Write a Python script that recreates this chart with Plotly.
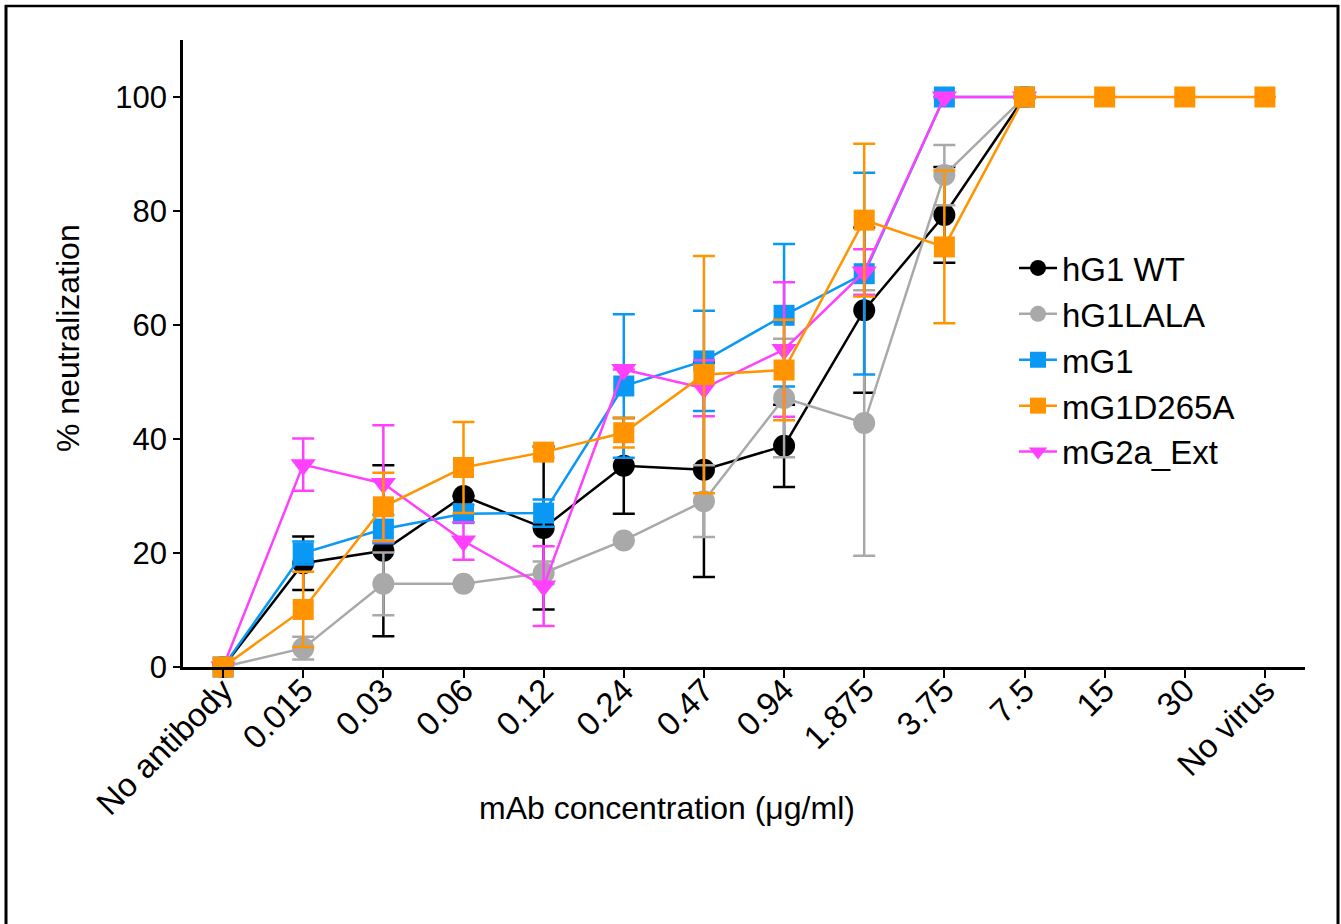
import plotly.graph_objects as go

categories = ["No antibody", "0.015", "0.03", "0.06", "0.12", "0.24", "0.47",
              "0.94", "1.875", "3.75", "7.5", "15", "30", "No virus"]

hg1_wt = [0, 18.2, 20.4, 30.0, 24.4, 35.3, 34.6, 38.8, 62.6, 79.3, 100, None, None, None]
hg1_wt_err = [0, 4.7, 15.0, 0, 14.3, 8.4, 18.8, 7.2, 14.5, 8.4, 0, 0, 0, 0]

hg1_lala = [0, 3.3, 14.6, 14.6, 16.5, 22.2, 29.1, 47.2, 42.8, 86.3, 100, None, None, None]
hg1_lala_err = [0, 2.0, 5.5, 0, 2.0, 0, 6.3, 10.4, 23.3, 5.3, 0, 0, 0, 0]

mg1 = [0, 20.0, 24.2, 26.9, 27.0, 49.3, 53.7, 61.7, 69.0, 100, 100, None, None, None]
mg1_err = [0, 2.0, 2.5, 1.5, 2.4, 12.6, 8.8, 12.5, 17.7, 0, 0, 0, 0, 0]

mg1d265a = [0, 10.1, 28.1, 35.0, 37.7, 41.1, 51.3, 52.1, 78.4, 73.7, 100, 100, 100, 100]
mg1d265a_err = [0, 6.6, 6.0, 8.0, 1.0, 2.6, 20.8, 8.8, 13.4, 13.4, 0, 0, 0, 0]

mg2a_ext = [0, 35.5, 32.2, 22.1, 14.2, 52.2, 48.9, 55.7, 69.3, 100, 100, None, None, None]
mg2a_ext_err = [0, 4.6, 10.2, 3.3, 7.0, 0, 4.9, 11.8, 4.0, 0, 0, 0, 0, 0]

FONT = "Liberation Sans, Arial, Helvetica, sans-serif"

series = [
    # name, values, errors, color, symbol, size, legendrank
    ("hG1 WT", hg1_wt, hg1_wt_err, "#000000", "circle", 22, 1),
    ("hG1LALA", hg1_lala, hg1_lala_err, "#A9A9A9", "circle", 22, 2),
    ("mG1", mg1, mg1_err, "#0A98F5", "square", 21, 3),
    ("mG2a_Ext", mg2a_ext, mg2a_ext_err, "#FF40FF", "triangle-down", 22, 5),
    ("mG1D265A", mg1d265a, mg1d265a_err, "#FF9400", "square", 21, 4),
]

fig = go.Figure()
for name, vals, errs, color, symbol, size, rank in series:
    fig.add_trace(go.Scatter(
        x=categories, y=vals, name=name, mode="lines+markers",
        line=dict(color=color, width=2.5),
        marker=dict(symbol=symbol, size=size, color=color, line=dict(width=0)),
        error_y=dict(type="data", array=errs, visible=True, color=color,
                     thickness=2.5, width=11),
        legendrank=rank, cliponaxis=False, connectgaps=False,
    ))

L, R, T, B = 183, 36, 40, 257
W, H = 1341, 924
pw, ph = W - L - R, H - T - B

def px_x(p):
    return (p - L) / pw

def px_y(p):
    return (H - B - p) / ph

fig.update_layout(
    width=W, height=H,
    margin=dict(l=L, r=R, t=T, b=B, pad=0),
    paper_bgcolor="white", plot_bgcolor="white",
    font=dict(family=FONT, color="black"),
    showlegend=True,
    legend=dict(x=px_x(1014), y=px_y(240), xanchor="left", yanchor="top",
                font=dict(size=33, family=FONT, color="black"),
                bgcolor="rgba(0,0,0,0)", tracegroupgap=0, itemwidth=38),
    xaxis=dict(
        type="category", categoryorder="array", categoryarray=categories,
        range=[-0.5, 13.5], showgrid=False, zeroline=False,
        showline=True, linecolor="black", linewidth=2.5,
        ticks="outside", ticklen=8, tickwidth=2, tickcolor="black",
        tickangle=-45, ticklabelstandoff=-20,
        tickfont=dict(size=33, family=FONT, color="black"),
    ),
    yaxis=dict(
        range=[0, 110], showgrid=False, zeroline=False,
        showline=True, linecolor="black", linewidth=2.5,
        ticks="outside", ticklen=7, tickwidth=2, tickcolor="black",
        tickvals=[0, 20, 40, 60, 80, 100],
        tickfont=dict(size=31, family=FONT, color="black"),
    ),
    annotations=[
        dict(text="mAb concentration (\u03bcg/ml)", xref="paper", yref="paper",
             x=px_x(667), y=px_y(808), xanchor="center", yanchor="middle",
             showarrow=False, font=dict(size=32, family=FONT, color="black")),
        dict(text="% neutralization", xref="paper", yref="paper",
             x=px_x(68), y=px_y(338), xanchor="center", yanchor="middle",
             textangle=-90, showarrow=False,
             font=dict(size=32, family=FONT, color="black")),
    ],
    shapes=[
        dict(type="line", xref="paper", yref="paper", x0=px_x(5), x1=px_x(1339),
             y0=px_y(6), y1=px_y(6), line=dict(color="black", width=2.5)),
        dict(type="line", xref="paper", yref="paper", x0=px_x(6), x1=px_x(6),
             y0=px_y(5), y1=px_y(930), line=dict(color="black", width=3)),
        dict(type="line", xref="paper", yref="paper", x0=px_x(1338), x1=px_x(1338),
             y0=px_y(5), y1=px_y(930), line=dict(color="black", width=3)),
    ],
)

fig.write_html("out.html")
